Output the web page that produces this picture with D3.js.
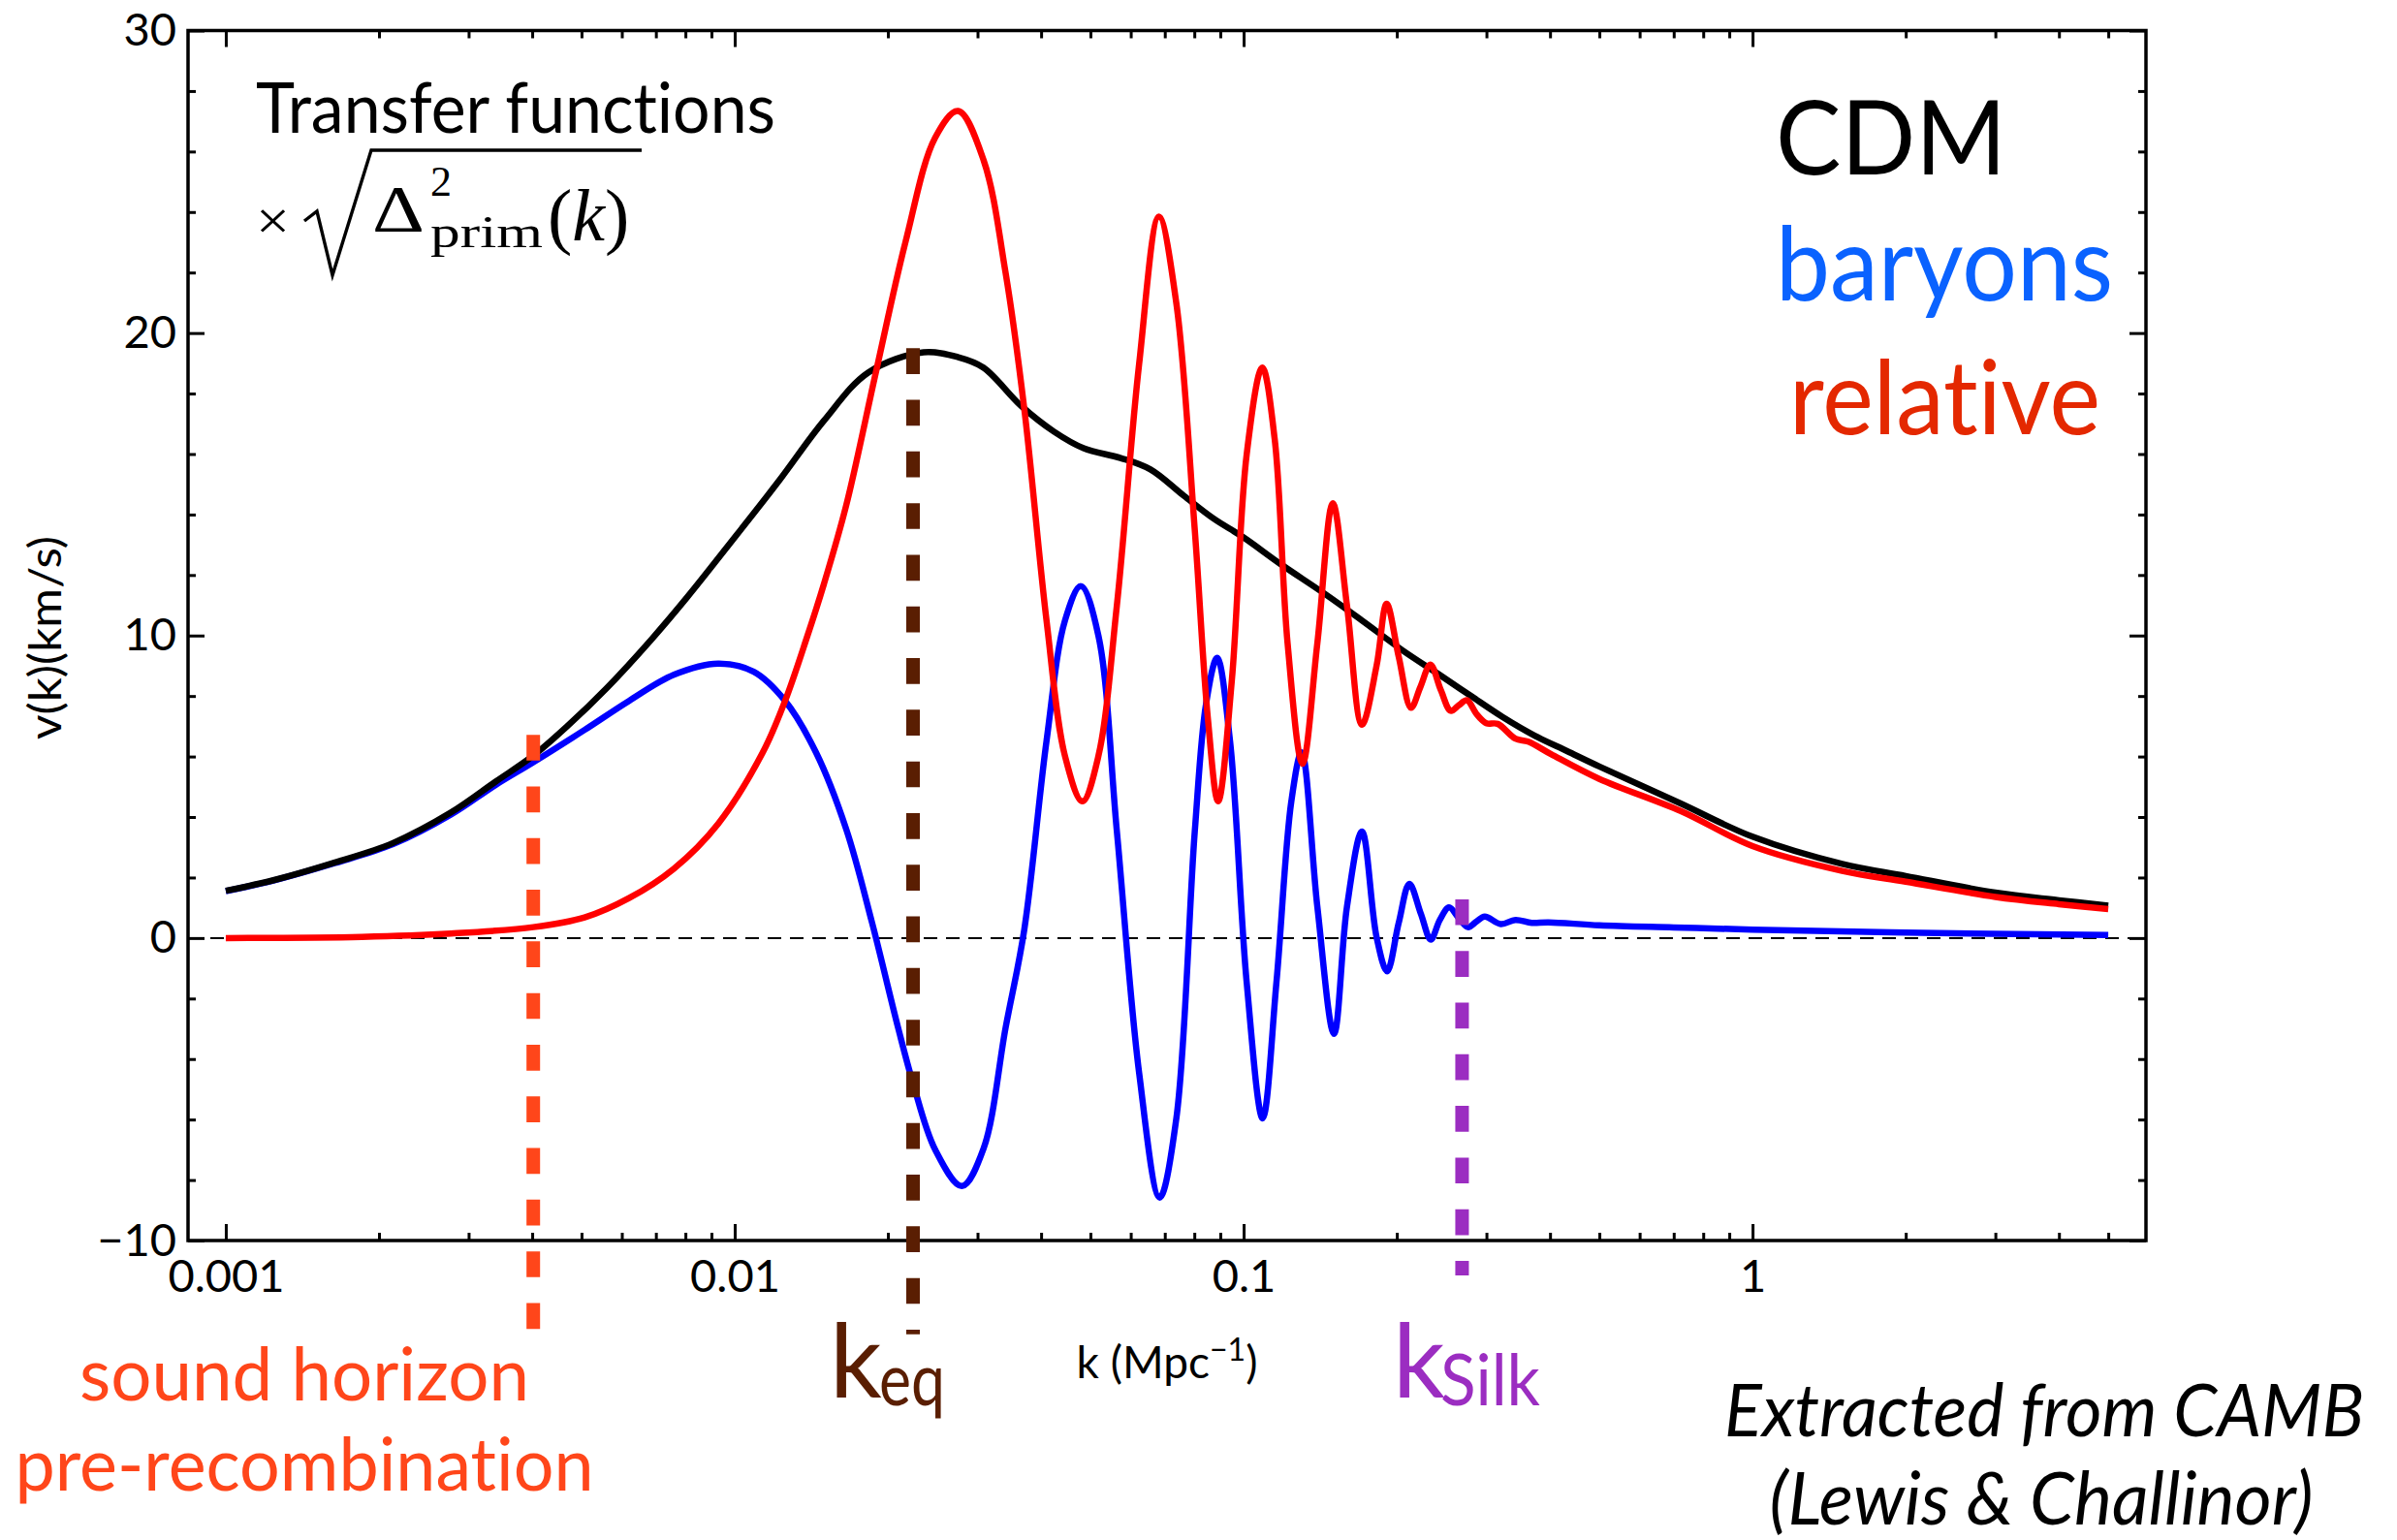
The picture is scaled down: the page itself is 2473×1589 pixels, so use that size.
<!DOCTYPE html>
<html>
<head>
<meta charset="utf-8">
<script src="https://cdn.jsdelivr.net/npm/d3@7"></script>
<style>
  html, body { margin: 0; padding: 0; background: #fff; }
  svg { display: block; }
  text { font-family: Lato, "Open Sans", "DejaVu Sans", sans-serif;
         font-variant-ligatures: none; font-feature-settings: "liga" 0, "clig" 0; }
</style>
</head>
<body>
<svg id="chart" width="2473" height="1589"></svg>
<script>
// ---- wavenumber k (Mpc^-1) and velocity v(k) (km/s) for each component ----
const cdmK = [0.001, 0.00124, 0.00164, 0.00213, 0.00277, 0.00339, 0.00402, 0.00468, 0.00561, 0.00686,
  0.00806, 0.01006, 0.0122, 0.01497, 0.01832, 0.0235, 0.0275, 0.0308, 0.0365, 0.0424, 0.0485, 0.0573,
  0.0656, 0.0763, 0.0872, 0.0998, 0.118, 0.1443, 0.1707, 0.2053, 0.2407, 0.2787, 0.3226, 0.3733, 0.432,
  0.5, 0.722, 1.0, 1.5, 2.0, 3.0, 4.0, 5.0];
const cdmV = [1.56, 1.91, 2.50, 3.14, 4.15, 5.17, 6.03, 6.99, 8.27, 9.87,
  11.26, 13.3, 15.1, 17.1, 18.7, 19.36, 19.2, 18.86, 17.6, 16.74, 16.19, 15.87,
  15.49, 14.62, 13.87, 13.25, 12.37, 11.38, 10.50, 9.51, 8.74, 8.02, 7.31, 6.69, 6.18,
  5.67, 4.45, 3.35, 2.45, 2.05, 1.5, 1.25, 1.07];

const baryonK = [0.001, 0.00124, 0.00164, 0.00213, 0.00277, 0.00339, 0.00402, 0.00507, 0.0062, 0.00759,
  0.00928, 0.0109, 0.01256, 0.01445, 0.01656, 0.01862, 0.02094, 0.02241, 0.02477, 0.02795, 0.03083,
  0.03407, 0.03707, 0.04099, 0.04457, 0.0479, 0.05183, 0.05636, 0.06233, 0.0684, 0.07376, 0.08017,
  0.0844, 0.0887, 0.09404, 0.1014, 0.109, 0.116, 0.1241, 0.130, 0.1396, 0.1505, 0.1596, 0.1708,
  0.1825, 0.1914, 0.2017, 0.2117, 0.2230, 0.2332, 0.2430, 0.2533, 0.2650, 0.2758, 0.2870, 0.2977,
  0.3202, 0.342, 0.3683, 0.397, 0.5, 0.7, 1.0, 2.0, 5.0];
const baryonV = [1.55, 1.90, 2.48, 3.10, 4.08, 5.06, 5.81, 6.88, 7.84, 8.70,
  9.07, 8.80, 7.84, 6.13, 3.6, 0.5, -2.96, -4.8, -7.0, -8.2, -6.96,
  -2.96, 0.28, 6.51, 10.5, 11.63, 10.0, 3.52, -4.46, -8.58, -5.96, 3.52,
  7.76, 9.26, 6.51, -1.47, -5.96, -1.47, 4.52, 6.14, 1.03, -3.17, 1.03, 3.52,
  0.03, -1.1, 0.5, 1.79, 0.8, -0.05, 0.6, 1.01, 0.65, 0.36, 0.55, 0.71,
  0.46, 0.60, 0.50, 0.52, 0.42, 0.35, 0.28, 0.18, 0.10];

const relK = [0.001, 0.00185, 0.00277, 0.00402, 0.00507, 0.0062, 0.00759, 0.00928, 0.01135, 0.01256,
  0.01389, 0.01497, 0.01656, 0.01894, 0.02165, 0.02477, 0.02748, 0.03083, 0.03407, 0.03707, 0.04099,
  0.04457, 0.04822, 0.05183, 0.05636, 0.06233, 0.06816, 0.07376, 0.08017, 0.08506, 0.0891, 0.0948,
  0.1014, 0.1088, 0.1151, 0.122, 0.1305, 0.1396, 0.1497, 0.1596, 0.1708, 0.1825, 0.1910, 0.2017,
  0.2133, 0.2225, 0.2328, 0.2440, 0.2553, 0.2650, 0.2746, 0.2870, 0.2998, 0.3156, 0.342, 0.3626,
  0.4018, 0.5, 0.722, 1.0, 1.5, 2.0, 3.0, 4.0, 5.0];
const relV = [0.0, 0.04, 0.15, 0.36, 0.68, 1.32, 2.29, 3.78, 6.13, 7.84,
  9.98, 11.7, 14.3, 18.7, 23.0, 26.46, 27.34, 25.72, 21.98, 17.49, 10.50,
  6.01, 4.52, 6.01, 11.0, 18.98, 23.85, 20.98, 13.49, 7.26, 4.52, 8.51,
  15.99, 18.86, 16.49, 9.75, 5.76, 9.75, 14.37, 11.0, 7.05, 9.0, 11.05, 9.3,
  7.61, 8.3, 9.04, 8.2, 7.51, 7.7, 7.86, 7.4, 7.10, 7.08, 6.59, 6.49,
  6.08, 5.26, 4.2, 3.04, 2.22, 1.86, 1.36, 1.12, 0.96];

// characteristic scales: k, top of the marker and its lower end (same v units)
const markerNames = ["sound", "eq", "silk"];
const markerK = [0.00402, 0.02241, 0.2687];
const markerTop = [6.72, 19.5, 1.28];
const markerBottom = [-12.92, -13.1, -11.15];

// axis ticks
const xMajorTicks = [0.001, 0.01, 0.1, 1];
const xTickLabels = ["0.001", "0.01", "0.1", "1"];
const yMajorTicks = [-10, 0, 10, 20, 30];
const yMinorTicks = [-8, -6, -4, -2, 2, 4, 6, 8, 12, 14, 16, 18, 22, 24, 26, 28];

// ---- drawing ----
const svg = d3.select("#chart");
svg.append("rect").attr("width", 2473).attr("height", 1589).attr("fill", "#fff");

const frame = { left: 194, right: 2214, top: 31.5, bottom: 1280 };
const x = d3.scaleLog().domain([0.000843, 5.93]).range([frame.left, frame.right]);
const y = d3.scaleLinear().domain([-10, 30]).range([frame.bottom, frame.top]);

const xMinorTicks = [];
[-3, -2, -1, 0].forEach(e => {
  for (let m = 2; m <= 9; m++) {
    const v = m * Math.pow(10, e);
    if (v < x.domain()[1]) xMinorTicks.push(v);
  }
});

const MAJ = 17, MIN = 8;
function styleAxis(g) {
  g.select(".domain").remove();
  g.selectAll(".tick line").attr("stroke", "#000").attr("stroke-width", 3);
  g.attr("font-family", null).attr("font-size", null);
  g.selectAll("text").attr("fill", "#000").style("font-family", "Lato, 'Open Sans', sans-serif").style("font-size", "47px");
}

// bottom
svg.append("g").attr("transform", `translate(0,${frame.bottom})`)
  .call(d3.axisBottom(x).tickValues(xMajorTicks).tickFormat((d, i) => xTickLabels[i])
    .tickSizeInner(-MAJ).tickSizeOuter(0).tickPadding(20))
  .call(styleAxis);
svg.append("g").attr("transform", `translate(0,${frame.bottom})`)
  .call(d3.axisBottom(x).tickValues(xMinorTicks).tickFormat("").tickSizeInner(-MIN).tickSizeOuter(0))
  .call(styleAxis);
// top
svg.append("g").attr("transform", `translate(0,${frame.top})`)
  .call(d3.axisTop(x).tickValues(xMajorTicks).tickFormat("").tickSizeInner(-MAJ).tickSizeOuter(0))
  .call(styleAxis);
svg.append("g").attr("transform", `translate(0,${frame.top})`)
  .call(d3.axisTop(x).tickValues(xMinorTicks).tickFormat("").tickSizeInner(-MIN).tickSizeOuter(0))
  .call(styleAxis);
// left
svg.append("g").attr("transform", `translate(${frame.left},0)`)
  .call(d3.axisLeft(y).tickValues(yMajorTicks).tickSizeInner(-MAJ).tickSizeOuter(0).tickPadding(12))
  .call(styleAxis);
svg.append("g").attr("transform", `translate(${frame.left},0)`)
  .call(d3.axisLeft(y).tickValues(yMinorTicks).tickFormat("").tickSizeInner(-MIN).tickSizeOuter(0))
  .call(styleAxis);
// right
svg.append("g").attr("transform", `translate(${frame.right},0)`)
  .call(d3.axisRight(y).tickValues(yMajorTicks).tickFormat("").tickSizeInner(-MAJ).tickSizeOuter(0))
  .call(styleAxis);
svg.append("g").attr("transform", `translate(${frame.right},0)`)
  .call(d3.axisRight(y).tickValues(yMinorTicks).tickFormat("").tickSizeInner(-MIN).tickSizeOuter(0))
  .call(styleAxis);

// frame
svg.append("rect")
  .attr("x", frame.left).attr("y", frame.top)
  .attr("width", frame.right - frame.left).attr("height", frame.bottom - frame.top)
  .attr("fill", "none").attr("stroke", "#000").attr("stroke-width", 3.5);

// zero line
svg.append("line")
  .attr("x1", frame.left).attr("x2", frame.right)
  .attr("y1", y(0)).attr("y2", y(0))
  .attr("stroke", "#000").attr("stroke-width", 2).attr("stroke-dasharray", "14 9");

// curves
const line = d3.line().x(d => x(d[0])).y(d => y(d[1])).curve(d3.curveCatmullRom.alpha(0.5));
const series = [
  { name: "baryons", k: baryonK, v: baryonV, color: "#0000ff", width: 6.5 },
  { name: "CDM", k: cdmK, v: cdmV, color: "#000000", width: 6.5 },
  { name: "relative", k: relK, v: relV, color: "#ff0000", width: 6.5 }
];
series.forEach(s => {
  svg.append("path")
    .datum(s.k.map((k, i) => [k, s.v[i]]))
    .attr("d", line)
    .attr("fill", "none")
    .attr("stroke", s.color)
    .attr("stroke-width", s.width)
    .attr("stroke-linejoin", "round")
    .attr("stroke-linecap", "butt");
});

// characteristic-scale markers
const markerColors = ["#ff461a", "#5a1e02", "#9b2dc1"];
markerNames.forEach((n, i) => {
  svg.append("line")
    .attr("x1", x(markerK[i])).attr("x2", x(markerK[i]))
    .attr("y1", y(markerTop[i])).attr("y2", y(markerBottom[i]))
    .attr("stroke", markerColors[i]).attr("stroke-width", 14)
    .attr("stroke-dasharray", "26.7 26.6");
});

// ---- text ----
function label(txt, px, py, opts = {}) {
  const t = svg.append("text")
    .attr("x", px).attr("y", py)
    .attr("text-anchor", opts.anchor || "start")
    .attr("fill", opts.color || "#000")
    .style("font-size", (opts.size || 48) + "px")
    .text(txt);
  if (opts.family) t.style("font-family", opts.family);
  if (opts.italic) t.style("font-style", "italic");
  if (opts.len) t.attr("textLength", opts.len).attr("lengthAdjust", "spacingAndGlyphs");
  return t;
}

// axis titles
svg.append("text")
  .attr("transform", "translate(63,658) rotate(-90)")
  .attr("text-anchor", "middle")
  .style("font-size", "46px")
  .attr("textLength", 210).attr("lengthAdjust", "spacingAndGlyphs")
  .text("v(k)(km/s)");

const xt = svg.append("text").attr("x", 1204).attr("y", 1422)
  .attr("text-anchor", "middle").style("font-size", "46px");
xt.append("tspan").text("k (Mpc");
xt.append("tspan").attr("dy", -18).style("font-size", "32px").text("−1");
xt.append("tspan").attr("dy", 18).text(")");

// heading with formula: × sqrt(Δ²_prim(k))
label("Transfer functions", 264, 137, { size: 71, len: 536 });
const serif = "'Liberation Serif', 'DejaVu Serif', serif";
label("×", 264, 247, { size: 58, family: serif, len: 35 });
svg.append("path")
  .attr("d", "M314,228 L327,218 L343,284 L383,155 L662,155")
  .attr("fill", "none").attr("stroke", "#000").attr("stroke-width", 3.4)
  .attr("stroke-linejoin", "miter");
label("Δ", 384, 238, { size: 68, family: serif, len: 54 });
label("2", 444, 202, { size: 44, family: serif });
label("prim", 444, 255, { size: 46, family: serif, len: 116 });
const fk = svg.append("text").attr("x", 565).attr("y", 248)
  .style("font-family", serif).style("font-size", "76px");
fk.append("tspan").text("(");
fk.append("tspan").style("font-style", "italic").text("k");
fk.append("tspan").text(")");

// legend words
label("CDM", 1832, 180, { size: 107, len: 238 });
label("baryons", 1832, 310, { size: 107, color: "#0a62ff", len: 348 });
label("relative", 1846, 448, { size: 107, color: "#e42800", len: 321 });

// marker annotations
label("sound horizon", 314, 1445, { size: 75, anchor: "middle", color: "#ff461a", len: 464 });
label("pre-recombination", 314, 1538, { size: 75, anchor: "middle", color: "#ff461a", len: 597 });

label("k", 856, 1442, { size: 106, color: "#5a1e02" });
label("eq", 907, 1450, { size: 76, color: "#5a1e02", len: 68 });

label("k", 1437, 1442, { size: 106, color: "#9b2dc1" });
label("Silk", 1486, 1450, { size: 74, color: "#9b2dc1", len: 103 });

// source note
label("Extracted from CAMB", 2109, 1482, { size: 75, anchor: "middle", italic: true, len: 660 });
label("(Lewis & Challinor)", 2106, 1573, { size: 75, anchor: "middle", italic: true, len: 561 });
</script>
</body>
</html>
